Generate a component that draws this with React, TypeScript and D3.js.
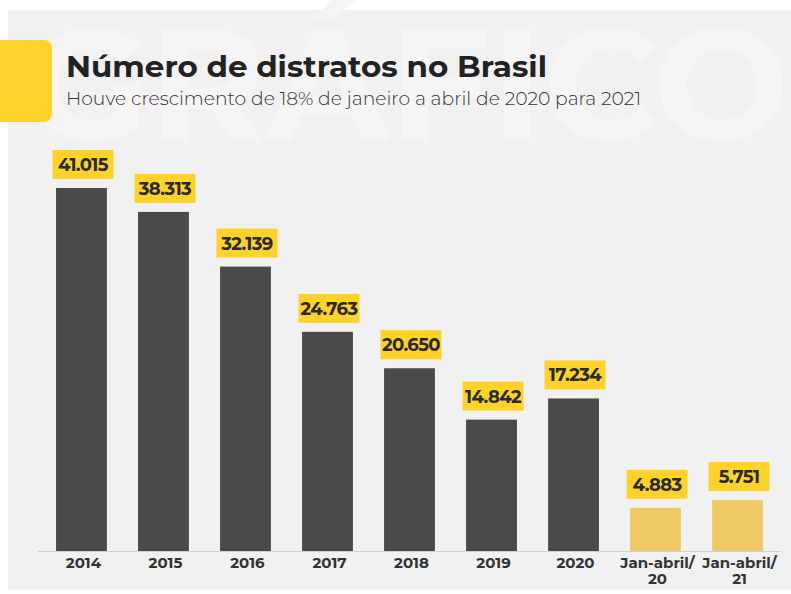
import React from "react";
import * as d3 from "d3";

const categories = ["2014", "2015", "2016", "2017", "2018", "2019", "2020", "Jan-abril/\n20", "Jan-abril/\n21"];
const values = [41015, 38313, 32139, 24763, 20650, 14842, 17234, 4883, 5751];
const labels = ["41.015", "38.313", "32.139", "24.763", "20.650", "14.842", "17.234", "4.883", "5.751"];
const highlight = [false, false, false, false, false, false, false, true, true];

const W = 791;
const H = 594;
const FONT = "Montserrat, Inter, 'Open Sans', sans-serif";

export default function App() {
  const x = d3.scaleBand<string>().domain(categories).range([38, 781]).paddingInner(0.38).paddingOuter(0.22);
  const y = d3.scaleLinear().domain([0, 41015]).range([551, 188]);
  return (
    <svg width={W} height={H} style={{ position: "absolute", left: 0, top: 0, display: "block" }}>
      <rect x={0} y={0} width={W} height={H} fill="#ffffff" />
      <rect x={8} y={10} width={W - 8} height={580} fill="#f1f1f1" />
      <text x={25} y={140} fontFamily={FONT} fontWeight={700} fontSize={160} fill="#f5f5f5">GRÁFICO</text>
      <rect x={-10} y={40} width={62} height={82} rx={8} fill="#fdd22b" />
      <text x={66} y={77} fontFamily={FONT} fontWeight={700} fontSize={29} fill="#222" textLength={481} lengthAdjust="spacingAndGlyphs">
        Número de distratos no Brasil
      </text>
      <text x={66} y={105} fontFamily={FONT} fontWeight={300} fontSize={18.5} fill="#333" textLength={575} lengthAdjust="spacingAndGlyphs">
        Houve crescimento de 18% de janeiro a abril de 2020 para 2021
      </text>
      <line x1={38} x2={781} y1={551.5} y2={551.5} stroke="#d0d0d0" strokeWidth={1} />
      {categories.map((c, i) => {
        const bx = x(c)!;
        const bw = x.bandwidth();
        const cx = bx + bw / 2;
        const top = y(values[i]);
        const lines = c.split("\n");
        return (
          <g key={c}>
            <rect x={bx} y={top} width={bw} height={551 - top} fill={highlight[i] ? "#efc965" : "#4a4a4a"} />
            <rect x={cx - 29} y={top - 38} width={61} height={29} fill="#fdd22b" />
            <text x={cx + 1.5} y={top - 17} textAnchor="middle" fontFamily={FONT} fontWeight={700} fontSize={18} fill="#2a2a2a" letterSpacing={-0.6}>
              {labels[i]}
            </text>
            {lines.map((l, j) => (
              <text key={j} x={cx + 2} y={568 + j * 16} textAnchor="middle" fontFamily={FONT} fontWeight={700} fontSize={15} fill="#333">
                {l}
              </text>
            ))}
          </g>
        );
      })}
    </svg>
  );
}
